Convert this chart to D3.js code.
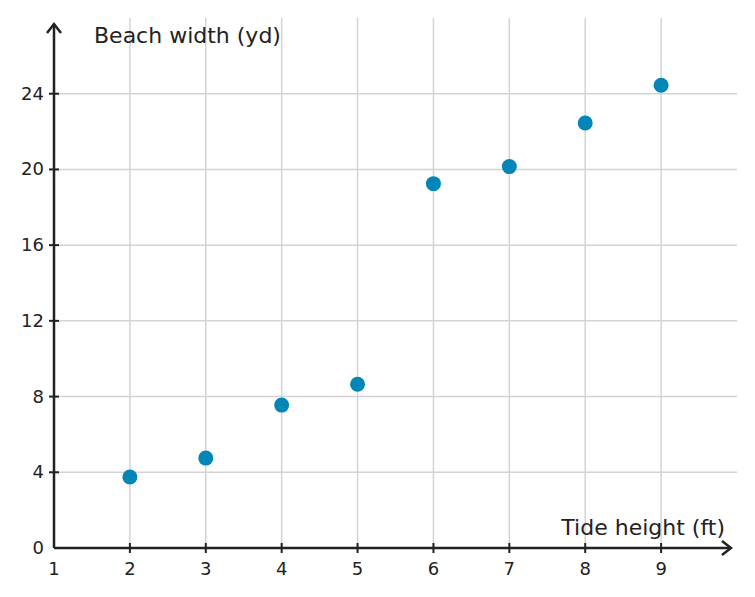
<!DOCTYPE html>
<html><head><meta charset="utf-8">
<script src="https://cdn.jsdelivr.net/npm/d3@7"></script>
<style>body{margin:0;background:#fff}text{font-family:"DejaVu Sans",sans-serif;fill:#222}</style>
</head><body><svg id="c" width="755" height="597"></svg>
<script>
const tideHeight = [2, 3, 4, 5, 6, 7, 8, 9];
const beachWidth = [3.75, 4.75, 7.55, 8.65, 19.25, 20.15, 22.45, 24.45];
const xTicks = [1, 2, 3, 4, 5, 6, 7, 8, 9];
const yTicks = [0, 4, 8, 12, 16, 20, 24];

const svg = d3.select("#c");
const x = d3.scaleLinear().domain([1, 10]).range([54, 737]);
const y = d3.scaleLinear().domain([0, 28]).range([548, 18]);

const grid = svg.append("g").attr("stroke", "#d3d3d3").attr("stroke-width", 1.5);
grid.selectAll(".v").data(d3.range(2, 10)).enter().append("line")
  .attr("x1", d => x(d)).attr("x2", d => x(d)).attr("y1", y(0)).attr("y2", y(28));
grid.selectAll(".h").data(d3.range(4, 28, 4)).enter().append("line")
  .attr("x1", x(1)).attr("x2", x(10)).attr("y1", d => y(d)).attr("y2", d => y(d));

// axes
const ax = svg.append("g").attr("stroke", "#222").attr("stroke-width", 2.5).attr("fill", "none");
ax.append("line").attr("x1", x(1)).attr("x2", 730).attr("y1", y(0)).attr("y2", y(0));
ax.append("line").attr("x1", x(1)).attr("x2", x(1)).attr("y1", y(0)).attr("y2", 24);
ax.append("path").attr("d", `M${722},${y(0)-7} L${731},${y(0)} L${722},${y(0)+7}`);
ax.append("path").attr("d", `M${x(1)-7},${33} L${x(1)},${24} L${x(1)+7},${33}`);

svg.selectAll(".xt").data(xTicks).enter().append("text")
  .attr("x", d => x(d)).attr("y", 575).attr("text-anchor", "middle").attr("font-size", 18).text(d => d);
svg.selectAll(".xtk").data(xTicks.slice(1)).enter().append("line")
  .attr("x1", d => x(d)).attr("x2", d => x(d)).attr("y1", y(0) - 5).attr("y2", y(0) + 5)
  .attr("stroke", "#222").attr("stroke-width", 2);
svg.selectAll(".yt").data(yTicks).enter().append("text")
  .attr("x", 44).attr("y", d => y(d) + 6).attr("text-anchor", "end").attr("font-size", 18).text(d => d);
svg.selectAll(".ytk").data(yTicks.slice(1)).enter().append("line")
  .attr("x1", x(1) - 5).attr("x2", x(1) + 5).attr("y1", d => y(d)).attr("y2", d => y(d))
  .attr("stroke", "#222").attr("stroke-width", 2);

svg.append("text").attr("x", 94).attr("y", 43).attr("font-size", 22).text("Beach width (yd)");
svg.append("text").attr("x", 725).attr("y", 535).attr("text-anchor", "end").attr("font-size", 22).text("Tide height (ft)");

svg.selectAll(".pt").data(tideHeight).enter().append("circle")
  .attr("cx", d => x(d)).attr("cy", (d, i) => y(beachWidth[i])).attr("r", 7.5).attr("fill", "#0286b8");
</script></body></html>
